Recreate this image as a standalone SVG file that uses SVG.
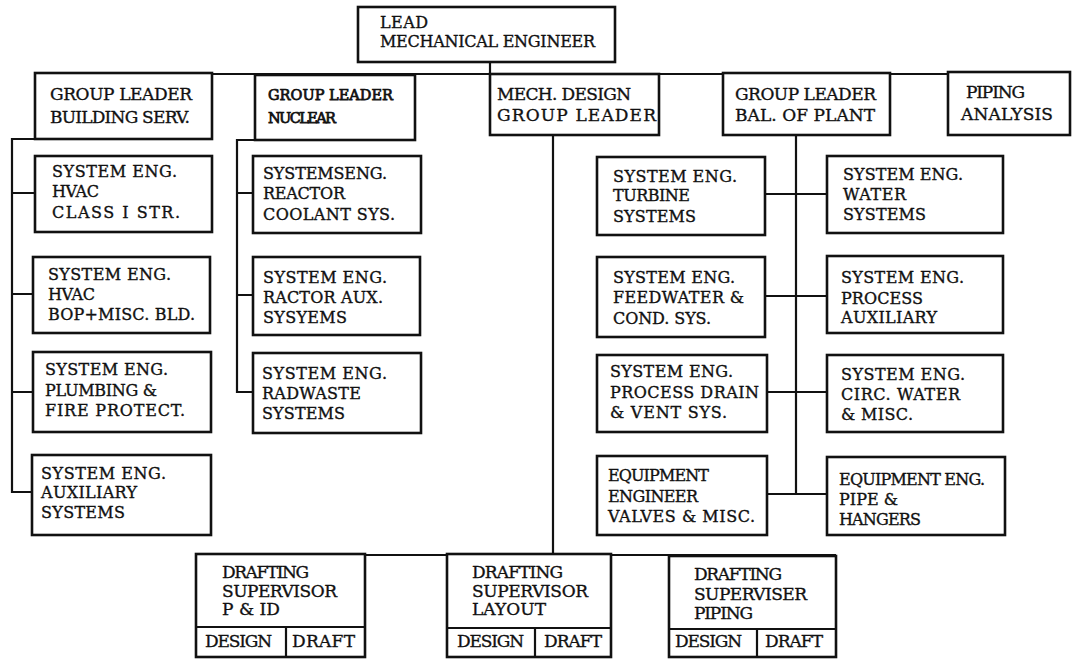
<svg xmlns="http://www.w3.org/2000/svg" width="1073" height="660" viewBox="0 0 1073 660">
<style>
.box{fill:#fff;stroke:#111;stroke-width:2.6}
.ln{fill:none;stroke:#111;stroke-width:2.2}
text{font-family:"DejaVu Serif","Liberation Serif",serif;fill:#111;stroke:#111;stroke-width:0.35}
.t16{font-size:17px}
.t15{font-size:16px}
.nb{font-size:14.5px;stroke-width:0.75}
.lead{font-size:16px}
</style>
<rect width="1073" height="660" fill="#fff"/>
<g id="connectors" class="ln">
<path d="M490 62V74"/>
<path d="M35 74H1070"/>
<path d="M35 139H12V492H32M12 193H35M12 294H33M12 392H33"/>
<path d="M255 140H237V392H253M237 193H253M237 295H253"/>
<path d="M553 135V555M196 555H836"/>
<path d="M796 135V494M765 194H827M765 296H827M767 392H827M767 494H827"/>
</g>
<g id="lead"><rect class="box" x="358" y="7" width="257" height="55"/>
<text class="lead" x="380" y="28" textLength="48">LEAD</text>
<text class="lead" x="380" y="47" textLength="215">MECHANICAL ENGINEER</text></g>
<g id="gl-building"><rect class="box" x="35" y="73" width="177" height="66"/>
<text class="t16" x="50" y="100" textLength="142">GROUP LEADER</text>
<text class="t16" x="50" y="123" textLength="140">BUILDING SERV.</text></g>
<g id="gl-nuclear"><rect class="box" x="255" y="75" width="160" height="65"/>
<text class="nb" x="268" y="100" textLength="125">GROUP LEADER</text>
<text class="nb" x="268" y="123" textLength="68">NUCLEAR</text></g>
<g id="mech-design"><rect class="box" x="490" y="74" width="169" height="61"/>
<text class="t16" x="497" y="100" textLength="134">MECH. DESIGN</text>
<text class="t16" x="497" y="121" textLength="159">GROUP LEADER</text></g>
<g id="gl-bop"><rect class="box" x="723" y="73" width="167" height="62"/>
<text class="t16" x="735" y="100" textLength="141">GROUP LEADER</text>
<text class="t16" x="735" y="121" textLength="140">BAL. OF PLANT</text></g>
<g id="piping-analysis"><rect class="box" x="948" y="72" width="122" height="63"/>
<text class="t16" x="966" y="98" textLength="59">PIPING</text>
<text class="t16" x="961" y="120" textLength="92">ANALYSIS</text></g>

<g id="a1"><rect class="box" x="35" y="156" width="177" height="76"/>
<text class="t15" x="52" y="177" textLength="125">SYSTEM ENG.</text>
<text class="t15" x="52" y="197" textLength="47">HVAC</text>
<text class="t15" x="52" y="218" textLength="128">CLASS I STR.</text></g>
<g id="a2"><rect class="box" x="33" y="257" width="177" height="76"/>
<text class="t15" x="48" y="280" textLength="123">SYSTEM ENG.</text>
<text class="t15" x="48" y="300" textLength="47">HVAC</text>
<text class="t15" x="48" y="320" textLength="147">BOP+MISC. BLD.</text></g>
<g id="a3"><rect class="box" x="33" y="352" width="178" height="80"/>
<text class="t15" x="45" y="375" textLength="123">SYSTEM ENG.</text>
<text class="t15" x="45" y="396" textLength="112">PLUMBING &amp;</text>
<text class="t15" x="45" y="416" textLength="140">FIRE PROTECT.</text></g>
<g id="a4"><rect class="box" x="32" y="455" width="179" height="80"/>
<text class="t15" x="41" y="479" textLength="125">SYSTEM ENG.</text>
<text class="t15" x="41" y="498" textLength="96">AUXILIARY</text>
<text class="t15" x="41" y="518" textLength="84">SYSTEMS</text></g>

<g id="b1"><rect class="box" x="253" y="156" width="168" height="77"/>
<text class="t15" x="263" y="179" textLength="124">SYSTEMSENG.</text>
<text class="t15" x="263" y="199" textLength="82">REACTOR</text>
<text class="t15" x="263" y="220" textLength="132">COOLANT SYS.</text></g>
<g id="b2"><rect class="box" x="253" y="257" width="167" height="78"/>
<text class="t15" x="263" y="283" textLength="124">SYSTEM ENG.</text>
<text class="t15" x="263" y="303" textLength="120">RACTOR AUX.</text>
<text class="t15" x="263" y="323" textLength="84">SYSYEMS</text></g>
<g id="b3"><rect class="box" x="253" y="353" width="168" height="80"/>
<text class="t15" x="262" y="379" textLength="125">SYSTEM ENG.</text>
<text class="t15" x="262" y="399" textLength="99">RADWASTE</text>
<text class="t15" x="262" y="419" textLength="83">SYSTEMS</text></g>

<g id="c1"><rect class="box" x="597" y="157" width="168" height="78"/>
<text class="t15" x="613" y="182" textLength="124">SYSTEM ENG.</text>
<text class="t15" x="613" y="201" textLength="77">TURBINE</text>
<text class="t15" x="613" y="222" textLength="83">SYSTEMS</text></g>
<g id="c2"><rect class="box" x="597" y="257" width="168" height="80"/>
<text class="t15" x="613" y="283" textLength="122">SYSTEM ENG.</text>
<text class="t15" x="613" y="303" textLength="131">FEEDWATER &amp;</text>
<text class="t15" x="613" y="324" textLength="98">COND. SYS.</text></g>
<g id="c3"><rect class="box" x="597" y="355" width="170" height="77"/>
<text class="t15" x="610" y="377" textLength="123">SYSTEM ENG.</text>
<text class="t15" x="610" y="398" textLength="149">PROCESS DRAIN</text>
<text class="t15" x="610" y="418" textLength="117">&amp; VENT SYS.</text></g>
<g id="c4"><rect class="box" x="597" y="456" width="170" height="79"/>
<text class="t15" x="608" y="481" textLength="101">EQUIPMENT</text>
<text class="t15" x="608" y="502" textLength="90">ENGINEER</text>
<text class="t15" x="608" y="522" textLength="147">VALVES &amp; MISC.</text></g>

<g id="d1"><rect class="box" x="827" y="156" width="176" height="77"/>
<text class="t15" x="843" y="180" textLength="120">SYSTEM ENG.</text>
<text class="t15" x="843" y="200" textLength="63">WATER</text>
<text class="t15" x="843" y="220" textLength="83">SYSTEMS</text></g>
<g id="d2"><rect class="box" x="827" y="256" width="176" height="77"/>
<text class="t15" x="841" y="283" textLength="123">SYSTEM ENG.</text>
<text class="t15" x="841" y="304" textLength="82">PROCESS</text>
<text class="t15" x="841" y="323" textLength="96">AUXILIARY</text></g>
<g id="d3"><rect class="box" x="827" y="355" width="176" height="77"/>
<text class="t15" x="841" y="380" textLength="124">SYSTEM ENG.</text>
<text class="t15" x="841" y="400" textLength="119">CIRC. WATER</text>
<text class="t15" x="841" y="420" textLength="72">&amp; MISC.</text></g>
<g id="d4"><rect class="box" x="827" y="457" width="178" height="78"/>
<text class="t15" x="839" y="485" textLength="146">EQUIPMENT ENG.</text>
<text class="t15" x="839" y="505" textLength="59">PIPE &amp;</text>
<text class="t15" x="839" y="525" textLength="82">HANGERS</text></g>

<g id="draft-pid"><rect class="box" x="196" y="554" width="169" height="103"/>
<path class="ln" d="M196 627H365M286 627V657"/>
<text class="t16" x="222" y="578" textLength="87">DRAFTING</text>
<text class="t16" x="222" y="597" textLength="115">SUPERVISOR</text>
<text class="t16" x="222" y="615" textLength="58">P &amp; ID</text>
<text class="t16" x="205" y="647" textLength="67">DESIGN</text>
<text class="t16" x="292" y="647" textLength="63">DRAFT</text></g>
<g id="draft-layout"><rect class="box" x="447" y="554" width="164" height="103"/>
<path class="ln" d="M447 628H611M535 628V657"/>
<text class="t16" x="472" y="578" textLength="91">DRAFTING</text>
<text class="t16" x="472" y="597" textLength="116">SUPERVISOR</text>
<text class="t16" x="472" y="615" textLength="74">LAYOUT</text>
<text class="t16" x="457" y="647" textLength="67">DESIGN</text>
<text class="t16" x="544" y="647" textLength="58">DRAFT</text></g>
<g id="draft-piping"><rect class="box" x="669" y="556" width="167" height="101"/>
<path class="ln" d="M669 629H836M757 629V657"/>
<text class="t16" x="694" y="580" textLength="88">DRAFTING</text>
<text class="t16" x="694" y="600" textLength="113">SUPERVISER</text>
<text class="t16" x="694" y="619" textLength="59">PIPING</text>
<text class="t16" x="675" y="647" textLength="67">DESIGN</text>
<text class="t16" x="765" y="647" textLength="58">DRAFT</text></g>
</svg>
